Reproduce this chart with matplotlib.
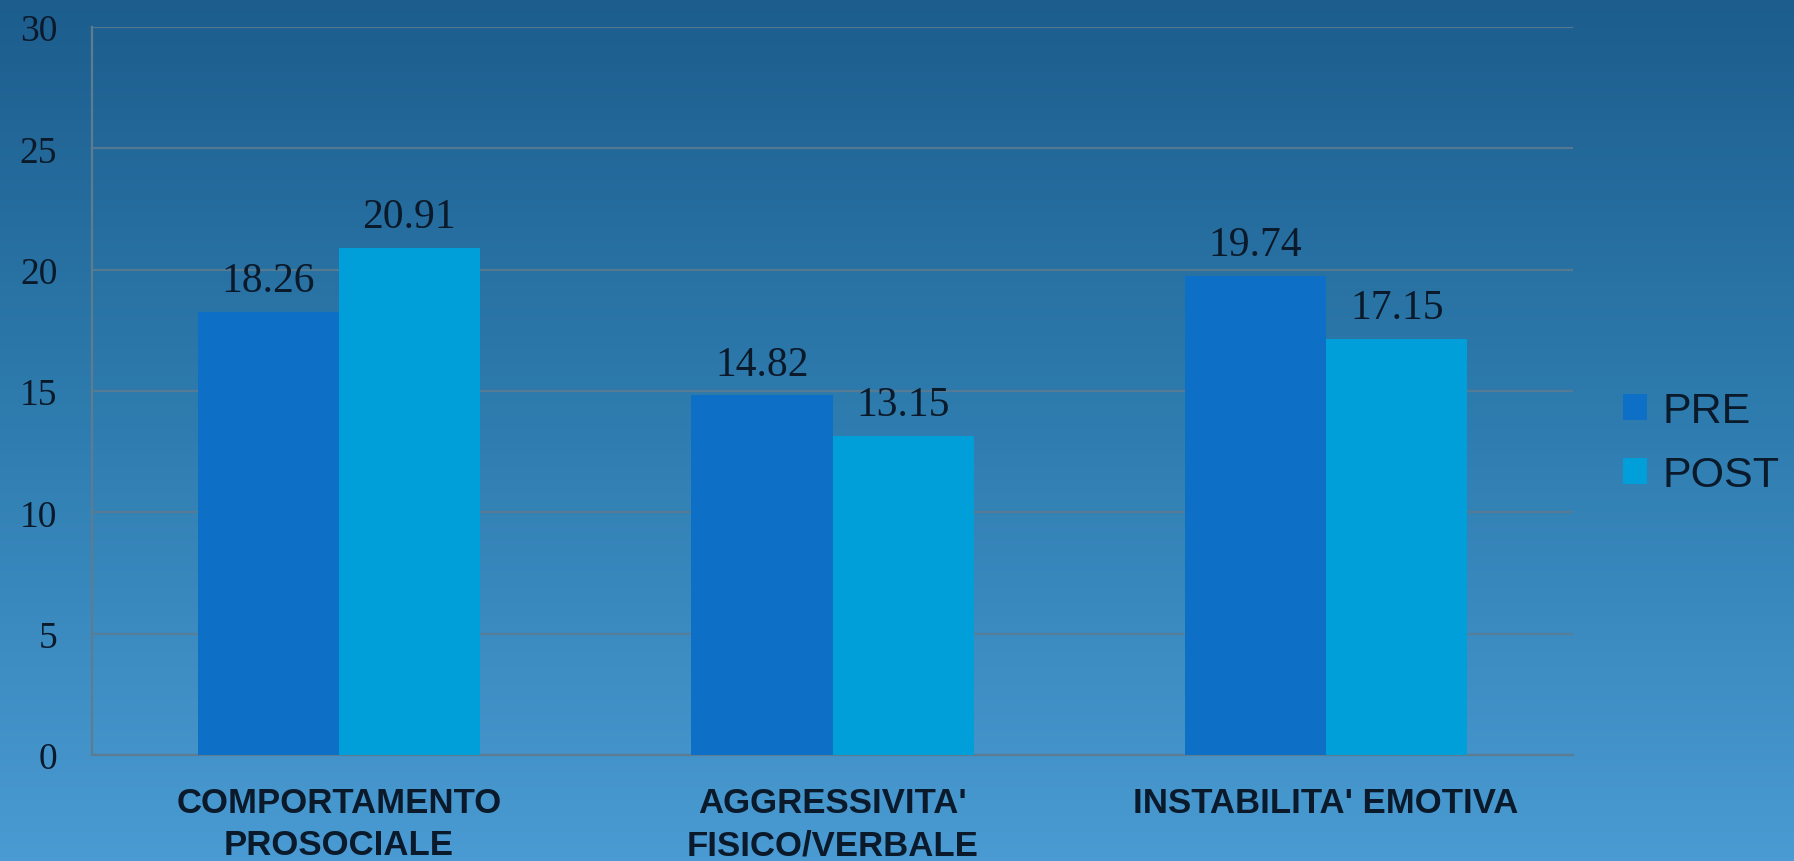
import matplotlib
matplotlib.use("Agg")
import matplotlib.pyplot as plt
import numpy as np
from matplotlib.patches import Patch
from matplotlib.colors import LinearSegmentedColormap

categories = ["COMPORTAMENTO\nPROSOCIALE", "AGGRESSIVITA'\nFISICO/VERBALE", "INSTABILITA' EMOTIVA"]
series_names = ["PRE", "POST"]
pre_values = [18.26, 14.82, 19.74]
post_values = [20.91, 13.15, 17.15]
y_ticks = [0, 5, 10, 15, 20, 25, 30]

W, H = 1794, 862
fig = plt.figure(figsize=(W / 100, H / 100), dpi=100)

# gradient background
bg = fig.add_axes([0, 0, 1, 1], zorder=-10)
cmap = LinearSegmentedColormap.from_list("bg", ["#1c5d8d", "#2f7db0", "#4a9bd3"])
grad = np.linspace(0, 1, 256).reshape(-1, 1)
bg.imshow(grad, aspect="auto", cmap=cmap, extent=[0, 1, 0, 1], origin="upper")
bg.set_axis_off()

ax = fig.add_axes([92 / W, 1 - 756 / H, (1573 - 92) / W, (756 - 28) / H])
ax.set_facecolor("none")

text_color = "#0b1a2b"
x = np.arange(len(categories))
bw = 0.286
pre_col = "#0e6fc6"
post_col = "#009fd9"

b1 = ax.bar(x - bw / 2, pre_values, bw, color=pre_col, zorder=3)
b2 = ax.bar(x + bw / 2, post_values, bw, color=post_col, zorder=3)

for bars, vals in ((b1, pre_values), (b2, post_values)):
    for rect, v in zip(bars, vals):
        ax.annotate(f"{v:.2f}", (rect.get_x() + rect.get_width() / 2, v),
                    xytext=(0, 15), textcoords="offset points",
                    ha="center", va="baseline", fontsize=30,
                    family="Liberation Serif", color=text_color)

ax.set_xlim(-0.5, 2.5)
ax.set_ylim(0, 30)
ax.set_yticks(y_ticks)
ax.set_yticklabels([str(t) for t in y_ticks], family="Liberation Serif",
                   fontsize=27, color=text_color)
ax.tick_params(axis="y", length=0, pad=25)
ax.set_xticks(x)
ax.set_xticklabels(categories, family="Liberation Sans", fontweight="bold",
                   fontsize=25, color=text_color, linespacing=1.38)
ax.tick_params(axis="x", length=0, pad=22)

ax.yaxis.grid(True, color="#5d7c90", linewidth=1.6, alpha=0.85, zorder=0)
ax.set_axisbelow(True)
for s in ("top", "right"):
    ax.spines[s].set_visible(False)
for s in ("left", "bottom"):
    ax.spines[s].set_color("#5d7c90")
    ax.spines[s].set_linewidth(1.6)

handles = [Patch(facecolor=pre_col, edgecolor="none"), Patch(facecolor=post_col, edgecolor="none")]
leg = fig.legend(handles, series_names, loc="center left",
                 bbox_to_anchor=(1623 / W, 1 - 444 / H), frameon=False,
                 prop={"family": "Liberation Sans", "size": 31},
                 handlelength=0.56, handleheight=0.56, handletextpad=0.35,
                 labelspacing=0.55, borderpad=0, borderaxespad=0)
for t in leg.get_texts():
    t.set_color(text_color)

fig.savefig("out.png", dpi=100)
